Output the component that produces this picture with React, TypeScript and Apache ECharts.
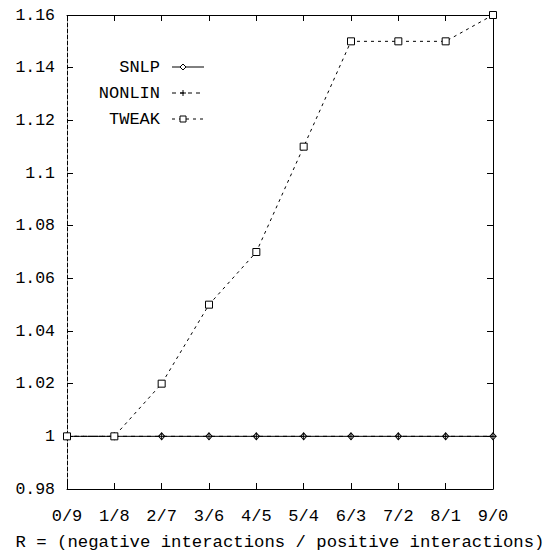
import React, { useEffect, useRef } from "react";
import * as echarts from "echarts";

// Ratio of negative to positive interactions
const ratios = ["0/9", "1/8", "2/7", "3/6", "4/5", "5/4", "6/3", "7/2", "8/1", "9/0"];

// Relative cost per method
const snlp = [1, 1, 1, 1, 1, 1, 1, 1, 1, 1];
const nonlin = [1, 1, 1, 1, 1, 1, 1, 1, 1, 1];
const tweak = [1, 1, 1.02, 1.05, 1.07, 1.11, 1.15, 1.15, 1.15, 1.16];

const yMin = 0.98;
const yMax = 1.16;
const yStep = 0.02;

const FONT = "'Liberation Mono', 'DejaVu Sans Mono', monospace";
const INK = "#000";

const plusPath = "path://M0,5L10,5M5,0L5,10";

export default function App() {
  const ref = useRef<HTMLDivElement>(null);

  useEffect(() => {
    if (!ref.current) return;
    const chart = echarts.init(ref.current, undefined, { renderer: "svg" });

    const baseX = {
      type: "category" as const,
      data: ratios,
      boundaryGap: false,
      axisLine: { show: true, lineStyle: { color: INK, width: 1 } },
      axisTick: { show: true, inside: true, length: 6, lineStyle: { color: INK } },
      splitLine: { show: false },
    };
    const baseY = {
      type: "value" as const,
      min: yMin,
      max: yMax,
      interval: yStep,
      axisTick: { show: true, inside: true, length: 6, lineStyle: { color: INK } },
      splitLine: { show: false },
    };

    // Legend: title on the left, line sample with marker on the right
    const legendRows = [
      { name: "SNLP", y: 67, dash: null as number[] | null, marker: "diamond" },
      { name: "NONLIN", y: 93, dash: [4, 4], marker: "plus" },
      { name: "TWEAK", y: 119, dash: [3, 4], marker: "square" },
    ];
    const graphics: any[] = [];
    legendRows.forEach((r) => {
      graphics.push({
        type: "text",
        x: 160,
        y: r.y,
        style: {
          text: r.name,
          font: `17px ${FONT}`,
          fill: INK,
          align: "right",
          verticalAlign: "middle",
        },
      });
      graphics.push({
        type: "line",
        shape: { x1: 172, y1: r.y, x2: 204, y2: r.y },
        style: { stroke: INK, lineWidth: 1, lineDash: r.dash || undefined },
      });
      const cx = 183;
      if (r.marker === "diamond") {
        graphics.push({
          type: "polygon",
          shape: { points: [[cx, r.y - 3], [cx + 3, r.y], [cx, r.y + 3], [cx - 3, r.y]] },
          style: { fill: "#fff", stroke: INK, lineWidth: 1 },
        });
      } else if (r.marker === "plus") {
        graphics.push({
          type: "line",
          shape: { x1: cx - 3, y1: r.y, x2: cx + 3, y2: r.y },
          style: { stroke: INK, lineWidth: 1 },
        });
        graphics.push({
          type: "line",
          shape: { x1: cx, y1: r.y - 3, x2: cx, y2: r.y + 3 },
          style: { stroke: INK, lineWidth: 1 },
        });
      } else {
        graphics.push({
          type: "rect",
          shape: { x: cx - 3, y: r.y - 3, width: 6, height: 6 },
          style: { fill: "#fff", stroke: INK, lineWidth: 1 },
        });
      }
    });

    chart.setOption({
      animation: false,
      backgroundColor: "#fff",
      textStyle: { fontFamily: FONT },
      grid: { left: 67, right: 60, top: 15, bottom: 66, outerBoundsMode: "none" },
      xAxis: [
        {
          ...baseX,
          position: "bottom",
          name: "R = (negative interactions / positive interactions)",
          nameLocation: "middle",
          nameGap: 45,
          nameTextStyle: { color: INK, fontSize: 17.3, fontFamily: FONT },
          axisLabel: { color: INK, fontSize: 17, fontFamily: FONT, margin: 19 },
        },
        {
          ...baseX,
          position: "top",
          axisLabel: { show: false },
        },
      ],
      yAxis: [
        {
          ...baseY,
          position: "left",
          axisLine: { show: true, lineStyle: { color: INK, width: 1, type: [4, 2] } },
          axisLabel: {
            color: INK,
            fontSize: 16.5,
            fontFamily: FONT,
            margin: 12,
            formatter: (v: number) => String(parseFloat(v.toFixed(2))),
          },
        },
        {
          ...baseY,
          position: "right",
          axisLine: { show: true, lineStyle: { color: INK, width: 1 } },
          axisLabel: { show: false },
        },
      ],
      series: [
        {
          name: "SNLP",
          type: "line",
          data: snlp,
          symbol: "diamond",
          symbolSize: [6, 7],
          lineStyle: { color: INK, width: 1 },
          itemStyle: { color: "#fff", borderColor: INK, borderWidth: 1 },
          z: 3,
        },
        {
          name: "NONLIN",
          type: "line",
          data: nonlin,
          symbol: plusPath,
          symbolSize: 7,
          lineStyle: { color: INK, width: 1, type: [4, 4] },
          itemStyle: { color: "none", borderColor: INK, borderWidth: 1 },
          z: 4,
        },
        {
          name: "TWEAK",
          type: "line",
          data: tweak,
          symbol: "rect",
          symbolSize: 7,
          lineStyle: { color: INK, width: 1, type: [3, 4] },
          itemStyle: { color: "#fff", borderColor: INK, borderWidth: 1 },
          z: 5,
        },
      ],
      graphic: graphics,
    });

    return () => chart.dispose();
  }, []);

  return (
    <div
      ref={ref}
      style={{ position: "fixed", left: 0, top: 0, width: 553, height: 555 }}
    />
  );
}
